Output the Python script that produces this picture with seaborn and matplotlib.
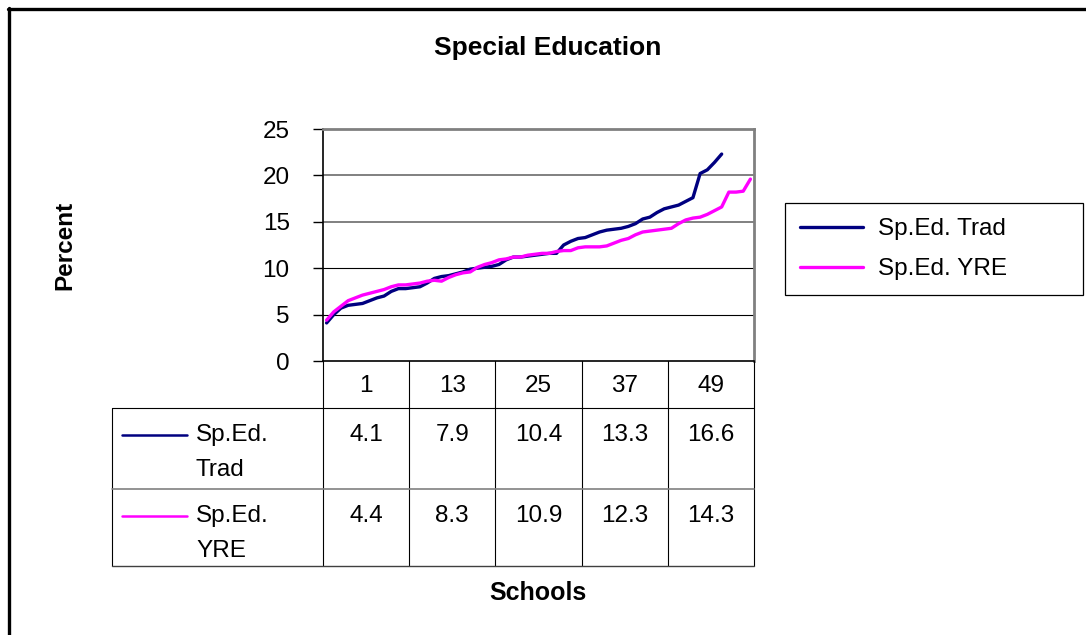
import matplotlib
matplotlib.use("Agg")
import matplotlib.pyplot as plt
from matplotlib.lines import Line2D
import numpy as np
import pandas as pd
import seaborn as sns

# ---- data -------------------------------------------------------------
trad_label = "Sp.Ed. Trad"
yre_label = "Sp.Ed. YRE"

trad = [4.1, 5.0, 5.7, 6.0, 6.1, 6.2, 6.5, 6.8, 7.0, 7.5, 7.8, 7.8,
        7.9, 8.0, 8.4, 8.9, 9.1, 9.2, 9.4, 9.6, 9.9, 10.0, 10.1, 10.2,
        10.4, 10.9, 11.2, 11.2, 11.3, 11.4, 11.5, 11.6, 11.6, 12.5, 12.9, 13.2,
        13.3, 13.6, 13.9, 14.1, 14.2, 14.3, 14.5, 14.8, 15.3, 15.5, 16.0, 16.4,
        16.6, 16.8, 17.2, 17.6, 20.2, 20.6, 21.4, 22.3]

yre = [4.4, 5.3, 5.9, 6.5, 6.8, 7.1, 7.3, 7.5, 7.7, 8.0, 8.2, 8.2,
       8.3, 8.4, 8.6, 8.7, 8.6, 9.0, 9.3, 9.5, 9.6, 10.1, 10.4, 10.6,
       10.9, 11.0, 11.2, 11.2, 11.4, 11.5, 11.6, 11.6, 11.8, 11.9, 11.9, 12.2,
       12.3, 12.3, 12.3, 12.4, 12.7, 13.0, 13.2, 13.6, 13.9, 14.0, 14.1, 14.2,
       14.3, 14.8, 15.2, 15.4, 15.5, 15.8, 16.2, 16.6, 18.2, 18.2, 18.3, 19.6]

n_schools = 60
label_schools = [1, 13, 25, 37, 49]
y_ticks = [0, 5, 10, 15, 20, 25]

# ---- style ------------------------------------------------------------
sns.set_style("white")
plt.rcParams["font.family"] = ["Liberation Sans", "DejaVu Sans"]
plt.rcParams["text.color"] = "black"
plt.rcParams["ytick.labelcolor"] = "black"
plt.rcParams["ytick.color"] = "black"

NAVY = "#000080"
MAGENTA = "#FF00FF"
GRAY = "#808080"
FS = 17.5

W, H = 1086, 635
fig = plt.figure(figsize=(W / 100, H / 100), dpi=100)
fig.patch.set_facecolor("white")


def frect(x0, y0, x1, y1):
    return [x0 / W, 1 - y1 / H, (x1 - x0) / W, (y1 - y0) / H]


PLOT_L, PLOT_R, PLOT_T, PLOT_B = 323, 754, 129, 361
TABLE_L, TABLE_B = 112, 566
cat_px = (PLOT_R - PLOT_L) / n_schools


def px2cat(px):
    return (px - PLOT_L) / cat_px


# ---- line chart -------------------------------------------------------
ax = fig.add_axes(frect(PLOT_L, PLOT_T, PLOT_R, PLOT_B))
df = pd.concat([
    pd.DataFrame({"school": np.arange(1, len(trad) + 1), "pct": trad, "series": trad_label}),
    pd.DataFrame({"school": np.arange(1, len(yre) + 1), "pct": yre, "series": yre_label}),
])
df["pos"] = df["school"] - 0.5

for v in y_ticks[1:-1]:
    if v >= 15:
        ax.axhline(v, color=GRAY, lw=1.4, zorder=1)
    else:
        ax.axhline(v, color="black", lw=0.8, zorder=1)

sns.lineplot(data=df, x="pos", y="pct", hue="series",
             palette={trad_label: NAVY, yre_label: MAGENTA},
             lw=2.4, ax=ax, legend=False, zorder=3)

ax.set_xlim(0, n_schools)
ax.set_ylim(y_ticks[0], y_ticks[-1])
ax.set_yticks(y_ticks)
ax.set_xticks([])
ax.set_xlabel("")
ax.set_ylabel("")
ax.tick_params(axis="y", left=True, length=7, width=1, color="black",
               pad=17, labelsize=FS, labelcolor="black")
for side in ("left", "bottom"):
    ax.spines[side].set_color("black")
    ax.spines[side].set_linewidth(1.2)
for side in ("top", "right"):
    ax.spines[side].set_color(GRAY)
    ax.spines[side].set_linewidth(2)

handles = [Line2D([], [], color=NAVY, lw=2.4), Line2D([], [], color=MAGENTA, lw=2.4)]
leg = ax.legend(handles, [trad_label, yre_label], loc="upper left",
                bbox_to_anchor=(785 / W, 1 - 289 / H, 298 / W, 86 / H),
                bbox_transform=fig.transFigure, mode="expand", borderaxespad=0,
                frameon=True, fancybox=False, framealpha=1, edgecolor="black",
                fontsize=FS, handlelength=2.6, borderpad=0.62, labelspacing=0.75,
                handletextpad=0.6)
leg.get_frame().set_linewidth(0.9)

# ---- data table -------------------------------------------------------
tax = fig.add_axes(frect(TABLE_L, PLOT_B, PLOT_R, TABLE_B))
tax.set_xlim(px2cat(TABLE_L), n_schools)
tax.set_ylim(TABLE_B, PLOT_B)
tax.axis("off")

ROW1_TOP, ROW2_TOP = 408, 489
for c in range(0, n_schools + 1, 12):
    tax.plot([c, c], [PLOT_B, TABLE_B], color="black", lw=0.8, clip_on=False)
xl = px2cat(TABLE_L)
tax.plot([xl, xl], [ROW1_TOP, TABLE_B], color="black", lw=0.8, clip_on=False)
tax.plot([xl, n_schools], [ROW1_TOP, ROW1_TOP], color="black", lw=0.8, clip_on=False)
tax.plot([xl, n_schools], [ROW2_TOP, ROW2_TOP], color=GRAY, lw=1.2, clip_on=False)
tax.plot([xl, n_schools], [TABLE_B, TABLE_B], color="#404040", lw=1.0, clip_on=False)

for s in label_schools:
    centre = (s - 1) + 6
    tax.text(centre, 386, str(s), ha="center", va="center", fontsize=FS)
    tax.text(centre, 435, f"{trad[s - 1]:.1f}", ha="center", va="center", fontsize=FS)
    tax.text(centre, 516, f"{yre[s - 1]:.1f}", ha="center", va="center", fontsize=FS)

for y_row, colour, name in ((435, NAVY, "Sp.Ed.\nTrad"), (516, MAGENTA, "Sp.Ed.\nYRE")):
    tax.plot([px2cat(122), px2cat(187)], [y_row, y_row], color=colour, lw=1.8, clip_on=False)
    tax.text(px2cat(196), y_row - 11, name, ha="left", va="top", fontsize=FS,
             linespacing=1.75)

# ---- titles -----------------------------------------------------------
fig.text(548 / W, 1 - 48 / H, "Special Education", ha="center", va="center",
         fontsize=19, fontweight="bold")
fig.text(65 / W, 1 - 245 / H, "Percent", ha="center", va="center",
         rotation=90, fontsize=17.5, fontweight="bold")
fig.text(538 / W, 1 - 593 / H, "Schools", ha="center", va="center",
         fontsize=18, fontweight="bold")

# outer chart frame (left and top edges)
fig.add_artist(Line2D([9 / W, 9 / W], [0, 1 - 8 / H], color="black", lw=2.4,
                      transform=fig.transFigure))
fig.add_artist(Line2D([8 / W, 1], [1 - 9 / H, 1 - 9 / H], color="black", lw=2.4,
                      transform=fig.transFigure))

fig.savefig("out.png", dpi=100, facecolor="white")
